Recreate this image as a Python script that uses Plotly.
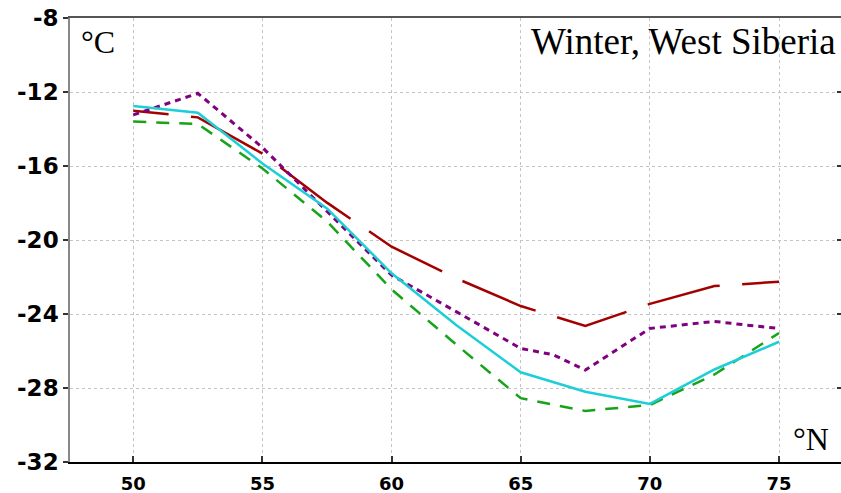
import plotly.graph_objects as go

lat = [50, 52.5, 55, 57.5, 60, 62.5, 65, 67.5, 70, 72.5, 75]
red_vals = [-13.01, -13.37, -15.33, -17.98, -20.36, -22.07, -23.57, -24.65, -23.45, -22.49, -22.25]
green_vals = [-13.6, -13.73, -16.13, -19.0, -22.67, -25.65, -28.55, -29.24, -28.92, -27.27, -25.03]
cyan_vals = [-12.76, -13.12, -15.86, -18.29, -21.8, -24.6, -27.15, -28.2, -28.86, -27.0, -25.5]
purple_lat = [50, 52.5, 55, 57.5, 60, 62.5, 65, 66.25, 67.5, 70, 71.25, 72.5, 73.75, 75]
purple_vals = [-13.24, -12.07, -15.0, -18.46, -21.9, -23.87, -25.86, -26.2, -27.03, -24.78, -24.58, -24.4, -24.6, -24.78]

x_ticks = [50, 55, 60, 65, 70, 75]
x_ticktext = ["50", "55", "60", "65", "70", "75"]
y_ticks = [-32, -28, -24, -20, -16, -12, -8]
y_ticktext = ["-32", "-28", "-24", "-20", "-16", "-12", "-8"]

title_text = "Winter, West Siberia"
y_unit = "°C"
x_unit = "°N"

red_dash = "35.5px,22.5px,81px,22.5px,87px,22.5px,83.5px,22.5px,79px,22.5px,73px,22.5px,74.5px,22.5px,200px,10px"

fig = go.Figure()
fig.add_trace(go.Scatter(x=lat, y=red_vals, mode="lines",
                         line=dict(color="#a30000", width=2.5, dash=red_dash)))
fig.add_trace(go.Scatter(x=purple_lat, y=purple_vals, mode="lines",
                         line=dict(color="#800080", width=3, dash="6px,5px")))
fig.add_trace(go.Scatter(x=lat, y=green_vals, mode="lines",
                         line=dict(color="#17a317", width=2.5, dash="13px,10px")))
fig.add_trace(go.Scatter(x=lat, y=cyan_vals, mode="lines",
                         line=dict(color="#1ccfd6", width=2.5)))

grid = dict(showgrid=True, gridcolor="#c4c4c4", gridwidth=1, griddash="3px,3px")
xr = [47.55, 77.4]
yr = [-32, -8]

fig.update_layout(
    width=841, height=493,
    margin=dict(l=70, r=0, t=18, b=31, autoexpand=False),
    paper_bgcolor="white", plot_bgcolor="white",
    showlegend=False,
    xaxis=dict(range=xr, tickvals=x_ticks, ticktext=x_ticktext,
               ticks="inside", ticklen=6, tickwidth=1.5, tickcolor="#333",
               showline=True, linecolor="black", linewidth=2,
               tickfont=dict(family="DejaVu Sans", size=18, color="black", weight="bold"),
               ticklabelstandoff=4, zeroline=False, **grid),
    xaxis2=dict(range=xr, overlaying="x", side="top", showline=True,
                linecolor="#555", linewidth=1.5, showticklabels=False,
                ticks="", showgrid=False, zeroline=False),
    yaxis=dict(range=yr, tickvals=y_ticks, ticktext=y_ticktext,
               ticks="outside", ticklen=5, tickwidth=1.5, tickcolor="#333",
               showline=True, linecolor="#888", linewidth=1.5,
               tickfont=dict(family="DejaVu Sans", size=23, color="black", weight="bold"),
               zeroline=False, **grid),
    yaxis2=dict(range=yr, overlaying="y", side="right", tickvals=y_ticks,
                showticklabels=False, ticks="inside", ticklen=4, tickwidth=1.5,
                tickcolor="#333", showline=False, showgrid=False, zeroline=False),
)

fig.add_trace(go.Scatter(x=[None], y=[None], xaxis="x2", yaxis="y2", showlegend=False))

fig.add_annotation(text=y_unit, xref="paper", yref="paper", x=(79 - 70) / 771, y=(462 - 42) / 444,
                   xanchor="left", yanchor="middle", showarrow=False,
                   font=dict(family="Liberation Serif", size=32, color="black"))
fig.add_annotation(text=title_text, xref="paper", yref="paper", x=(838 - 70) / 771, y=(462 - 41) / 444,
                   xanchor="right", yanchor="middle", showarrow=False,
                   font=dict(family="Liberation Serif", size=37, color="black"))
fig.add_annotation(text=x_unit, xref="paper", yref="paper", x=(831 - 70) / 771, y=(462 - 439) / 444,
                   xanchor="right", yanchor="middle", showarrow=False,
                   font=dict(family="Liberation Serif", size=32, color="black"))

fig.write_html("out.html", config={"displayModeBar": False},
               post_script="document.body.style.margin='0px';")
